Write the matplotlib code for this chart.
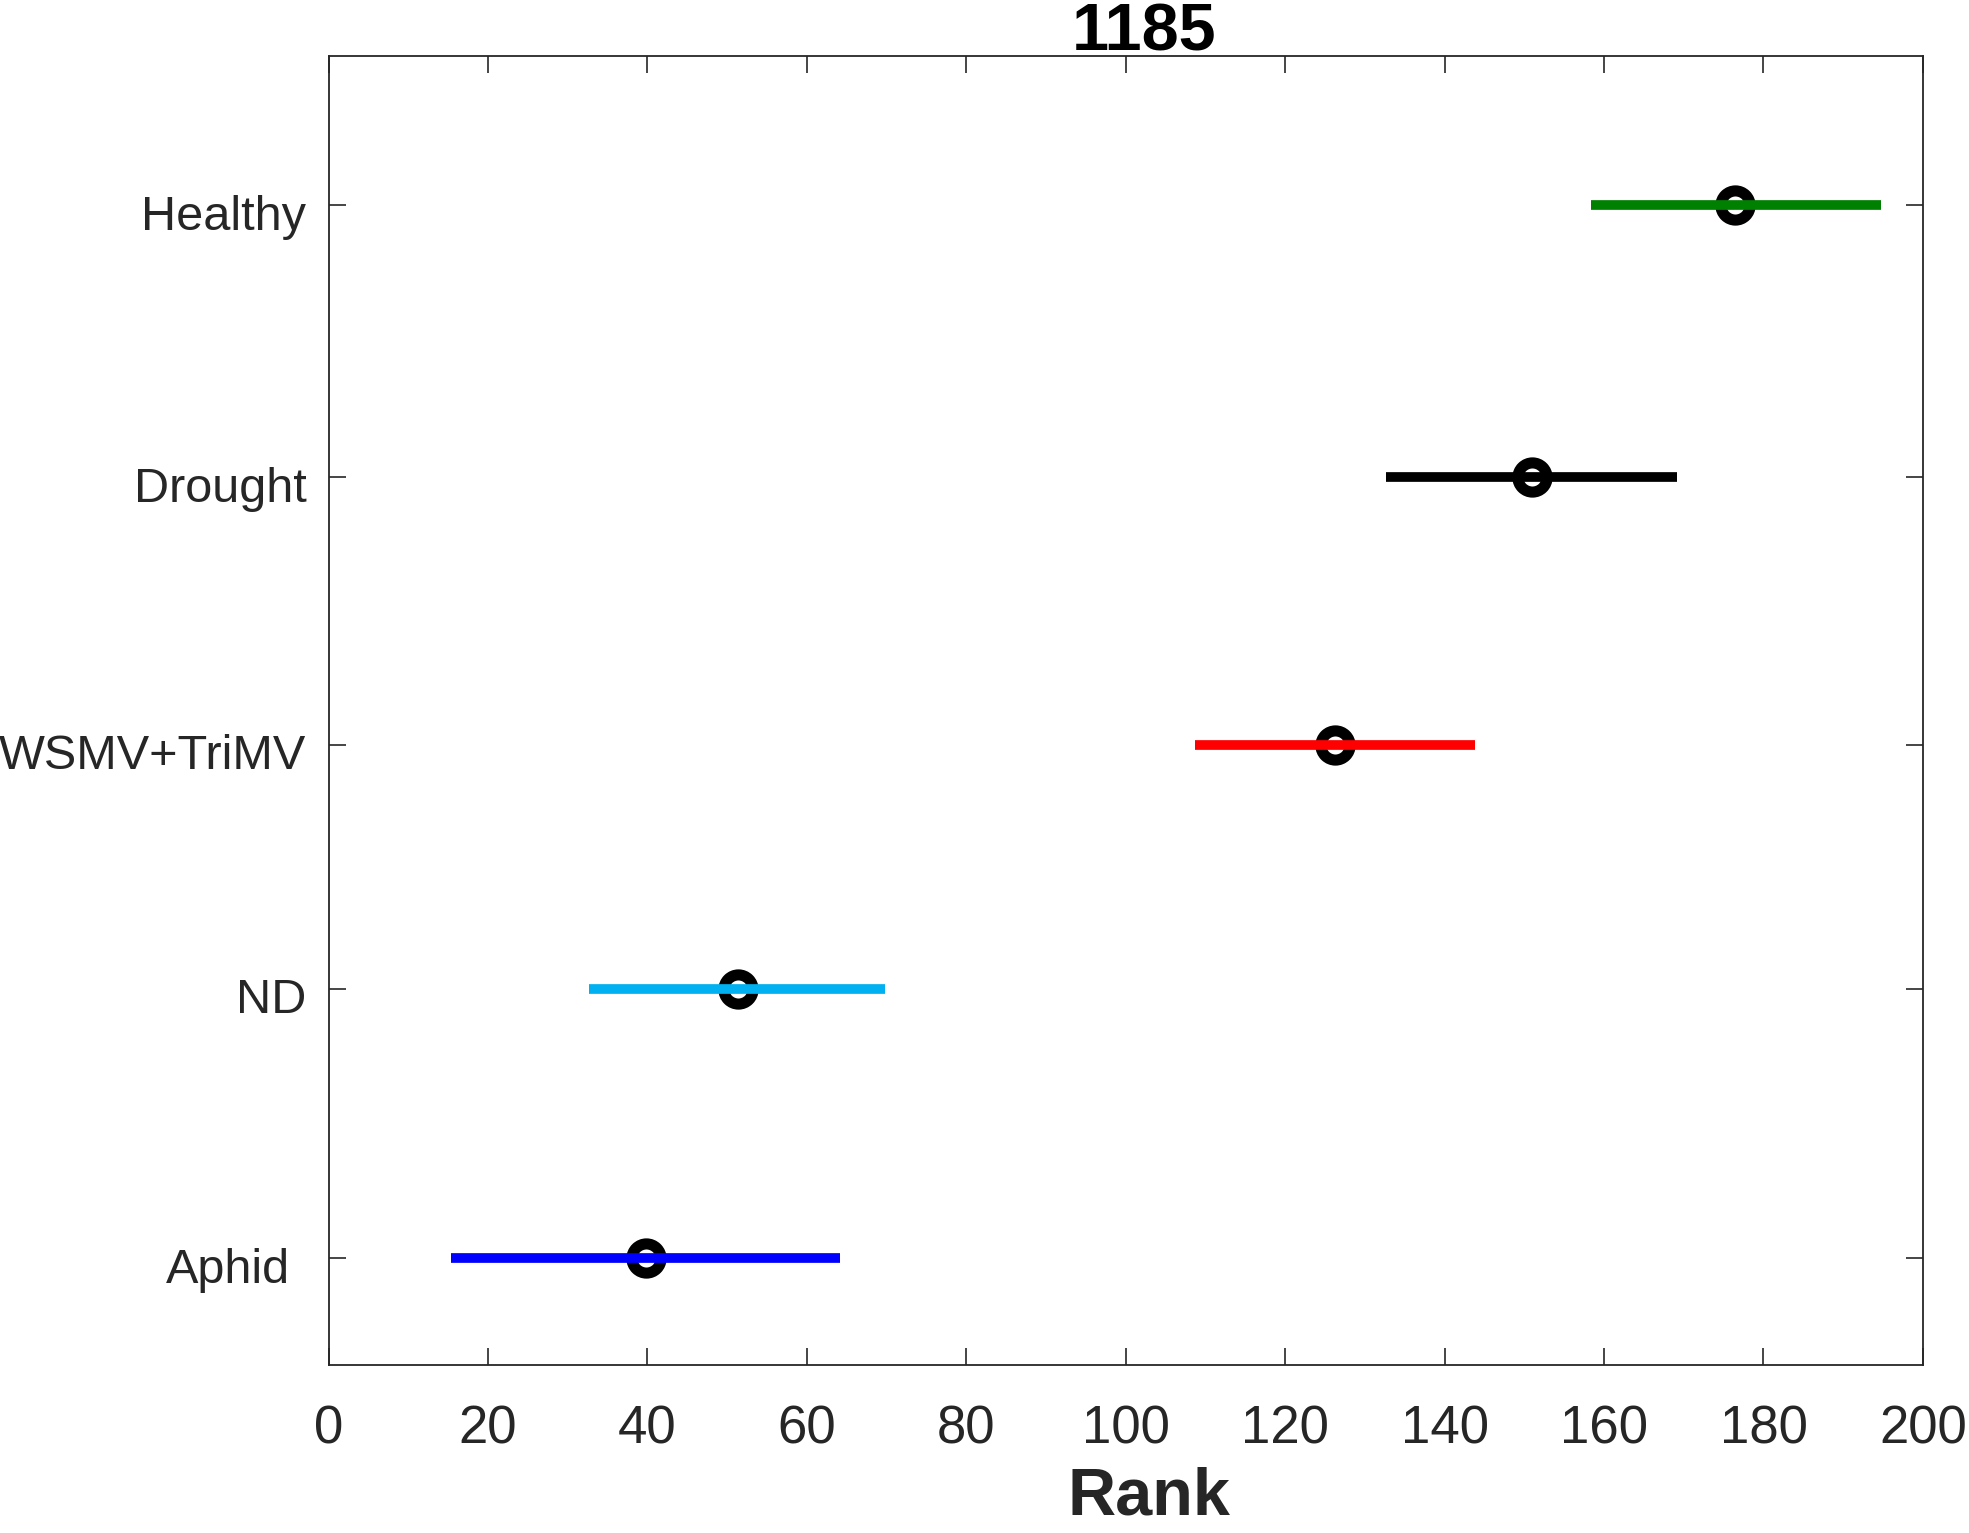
import numpy as np
import matplotlib
matplotlib.use('Agg')
import matplotlib.pyplot as plt
import matplotlib.transforms as mtransforms

plt.rcParams['font.family'] = ['Liberation Sans', 'DejaVu Sans']

# groups, bottom to top
groups = ['Aphid', 'ND', 'WSMV+TriMV', 'Drought', 'Healthy']
group_pos = [0.907, 1.936, 2.869, 3.890, 4.929]
mean_rank = [39.8, 51.3, 126.2, 150.9, 176.4]
ci_low = [15.4, 32.7, 108.7, 132.7, 158.3]
ci_high = [64.1, 69.8, 143.8, 169.2, 194.8]
colors = ['#0000FF', '#00B0F0', '#FF0000', '#000000', '#008000']

x_ticks = [0, 20, 40, 60, 80, 100, 120, 140, 160, 180, 200]

fig = plt.figure(figsize=(19.69, 15.33), dpi=100)
ax = fig.add_axes([0.1669, 0.1099, 0.8097, 0.8536])

for y, m, lo, hi, c in zip(group_pos, mean_rank, ci_low, ci_high, colors):
    ax.plot([m], [y], 'o', markersize=21, markerfacecolor='none',
            markeredgecolor='black', markeredgewidth=8, zorder=2)
    ax.plot([lo, hi], [y, y], color=c, linewidth=7, solid_capstyle='butt', zorder=3)

ax.set_xlim(0, 200)
ax.set_ylim(0.5, 5.5)
ax.set_xticks(x_ticks)
ax.set_yticks(group_pos)
ax.set_yticklabels(groups)

axis_col = '#262626'
for s in ax.spines.values():
    s.set_color(axis_col)
    s.set_linewidth(1.3)
ax.tick_params(axis='both', direction='in', length=12, width=1.2, color=axis_col,
               top=True, right=True, labelcolor=axis_col)
ax.tick_params(axis='x', labelsize=38, pad=29)
ax.tick_params(axis='y', labelsize=35, pad=16)

# nudge the y labels a little lower, Aphid a bit further left
for lab in ax.get_yticklabels():
    dx = -16 if lab.get_text() == 'Aphid' else 0
    off = mtransforms.ScaledTranslation(dx / 100, -7 / 100, fig.dpi_scale_trans)
    lab.set_transform(lab.get_transform() + off)

ax.set_xlabel('Rank', fontsize=48, fontweight='bold', color=axis_col)
ax.xaxis.set_label_coords(0.5145, -0.078)
ax.set_title('1185', fontsize=48, fontweight='bold', color='black', pad=3.6)
ax.title.set_x(0.5114)

fig.savefig('out.png', dpi=100, facecolor='white')
